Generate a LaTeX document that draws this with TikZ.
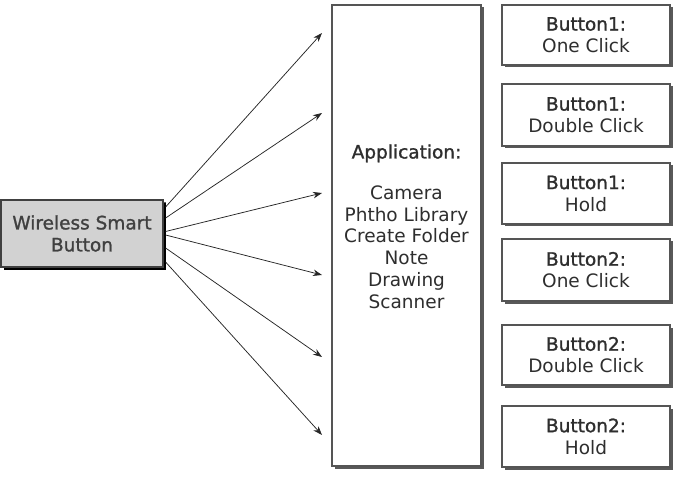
\documentclass[tikz,border=0pt]{standalone}
\usepackage{fontspec}
\setmainfont{DejaVu Sans}
\newfontfamily\semib[FakeBold=1.3]{DejaVu Sans}
\usetikzlibrary{calc,arrows.meta,shadows}
\definecolor{txt}{HTML}{2E2E2E}
\definecolor{edge}{HTML}{555555}
\definecolor{wsbfill}{HTML}{D2D2D2}
\begin{document}
\begin{tikzpicture}[x=1pt,y=-1pt,
  box/.style={draw=edge,line width=1.2pt,fill=white,rectangle,inner sep=0pt,
    drop shadow={shadow xshift=2.5pt,shadow yshift=-2.5pt,fill=black!65,opacity=1},
    font=\fontsize{18.5}{22}\selectfont,text=txt,align=center},
  btn/.style={box,minimum width=168pt},
  wsbbox/.style={box,fill=wsbfill,draw=black!75,text=black!75,
    drop shadow={shadow xshift=3pt,shadow yshift=-3pt,fill=black,opacity=1}},
  conn/.style={draw=black!85,line width=0.75pt,-{Stealth[length=9pt,width=6.5pt]}}]
\useasboundingbox (0,0) rectangle (674,478);
\node[wsbbox,minimum width=162pt,minimum height=67pt] (wsb) at (82,233.5) {\semib Wireless Smart\\\semib Button};
\node[box,minimum width=149pt,minimum height=461pt] (app) at (406.5,235.5) {};
\node[font=\fontsize{18.5}{21.8}\selectfont,text=txt,align=center] (apptext) at (406.5,226.5)
  {\semib Application:\\[19pt]Camera\\Phtho Library\\Create Folder\\Note\\Drawing\\Scanner};
\node[btn,minimum height=60pt] (b1) at (586,35) {\semib Button1:\\One Click};
\node[btn,minimum height=62pt] (b2) at (586,115) {\semib Button1:\\Double Click};
\node[btn,minimum height=61pt] (b3) at (586,193.5) {\semib Button1:\\Hold};
\node[btn,minimum height=62pt] (b4) at (586,270) {\semib Button2:\\One Click};
\node[btn,minimum height=60pt] (b5) at (586,355) {\semib Button2:\\Double Click};
\node[btn,minimum height=61pt] (b6) at (586,436.5) {\semib Button2:\\Hold};
\coordinate (e1) at (322,33);
\coordinate (e2) at (322,113);
\coordinate (e3) at (322,193);
\coordinate (e4) at (322,275);
\coordinate (e5) at (322,357);
\coordinate (e6) at (322,435);
\draw[conn] ($(wsb.east)+(2,-26.5)$) -- (e1);
\draw[conn] ($(wsb.east)+(2,-15.5)$) -- (e2);
\draw[conn] ($(wsb.east)+(2,-2)$) -- (e3);
\draw[conn] ($(wsb.east)+(2,1.5)$) -- (e4);
\draw[conn] ($(wsb.east)+(2,14.5)$) -- (e5);
\draw[conn] ($(wsb.east)+(2,28.5)$) -- (e6);
\end{tikzpicture}
\end{document}
